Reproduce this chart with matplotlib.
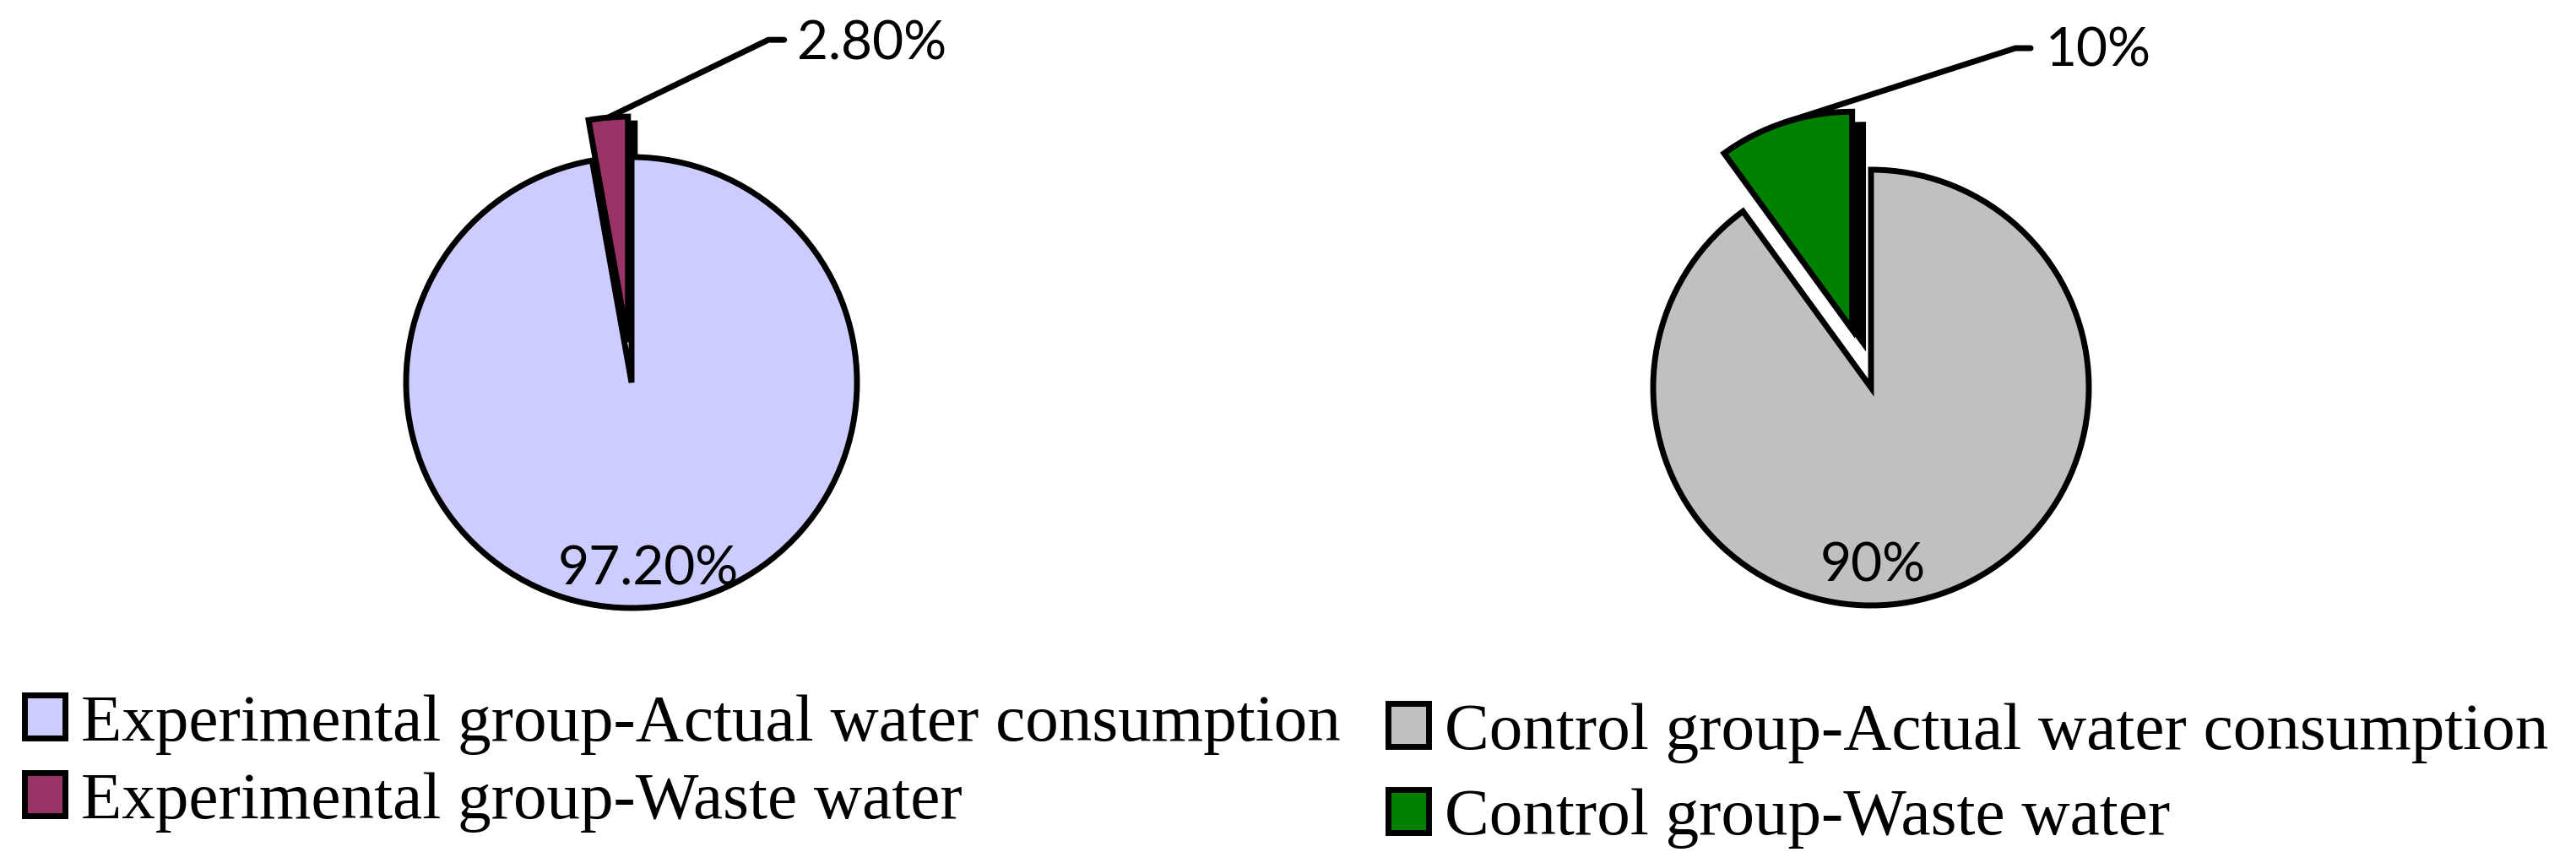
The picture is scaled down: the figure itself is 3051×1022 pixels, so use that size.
import numpy as np
import matplotlib
matplotlib.use("Agg")
import matplotlib.pyplot as plt
from matplotlib.patches import Wedge

# data
parts = ['Actual water consumption', 'Waste water']
exp_values = [97.2, 2.8]
ctrl_values = [90, 10]
exp_labels = ['97.20%', '2.80%']
ctrl_labels = ['90%', '10%']
exp_colors = ['#CCCCFF', '#993366']
ctrl_colors = ['#C0C0C0', '#008000']

W, H = 3051, 1022
fig = plt.figure(figsize=(W / 100, H / 100), dpi=100)

LIM = 1.65
LW = 5.0


def pie_axes(cx, cy, r_px):
    # cx, cy: pie centre in pixels from top-left, r_px: radius in pixels
    side = 2 * LIM * r_px
    left = (cx - side / 2) / W
    bottom = (H - cy - side / 2) / H
    return fig.add_axes([left, bottom, side / W, side / H])


def draw_pie(ax, values, colors, explode, big_lab, small_lab, big_pos, small_pos, elbow, shadow):
    wedges, _ = ax.pie(values, colors=colors, explode=explode, startangle=90,
                       counterclock=False, radius=1,
                       wedgeprops=dict(edgecolor='black', linewidth=LW))
    ax.set_xlim(-LIM, LIM)
    ax.set_ylim(-LIM, LIM)
    ax.set_aspect('auto')
    ax.axis('off')

    small = wedges[1]
    # dark side of the pulled-out slice
    sh = Wedge((small.center[0] + shadow[0], small.center[1] + shadow[1]), small.r,
               small.theta1, small.theta2, facecolor='black', edgecolor='black',
               linewidth=LW, zorder=small.get_zorder() - 0.5)
    ax.add_patch(sh)

    # leader line from the outer arc of the exploded wedge
    mid = np.deg2rad((small.theta1 + small.theta2) / 2)
    sx = small.center[0] + small.r * np.cos(mid)
    sy = small.center[1] + small.r * np.sin(mid)
    ax.plot([sx, elbow[0], elbow[0] + 0.07], [sy, elbow[1], elbow[1]],
            color='black', linewidth=LW, solid_capstyle='round', clip_on=False)
    ax.text(small_pos[0], small_pos[1], small_lab, fontsize=46, family='Lato',
            ha='left', va='center', clip_on=False)
    ax.text(big_pos[0], big_pos[1], big_lab, fontsize=46, family='Lato',
            ha='center', va='center')
    return wedges


ax1 = pie_axes(748, 453, 267)
w1 = draw_pie(ax1, exp_values, exp_colors, [0, 0.18], exp_labels[0], exp_labels[1],
              (0.075, -0.83), (0.735, 1.50), (0.607, 1.52), shadow=(0.03, -0.03))

ax2 = pie_axes(2216, 459, 258)
w2 = draw_pie(ax2, ctrl_values, ctrl_colors, [0, 0.28], ctrl_labels[0], ctrl_labels[1],
              (0.008, -0.82), (0.80, 1.545), (0.663, 1.558), shadow=(0.05, -0.06))

leg_kw = dict(loc='upper left', frameon=False, handlelength=0.6, handleheight=0.62,
              handletextpad=0.25, borderpad=0, borderaxespad=0,
              prop=dict(family='Liberation Serif', size=57))

fig.legend(w1, ['Experimental group-' + p for p in parts],
           bbox_to_anchor=(29 / W, (H - 822) / H), labelspacing=0.26, **leg_kw)
fig.legend(w2, ['Control group-' + p for p in parts],
           bbox_to_anchor=(1644 / W, (H - 832) / H), labelspacing=0.38, **leg_kw)

fig.savefig('out.png', dpi=100, facecolor='white')
